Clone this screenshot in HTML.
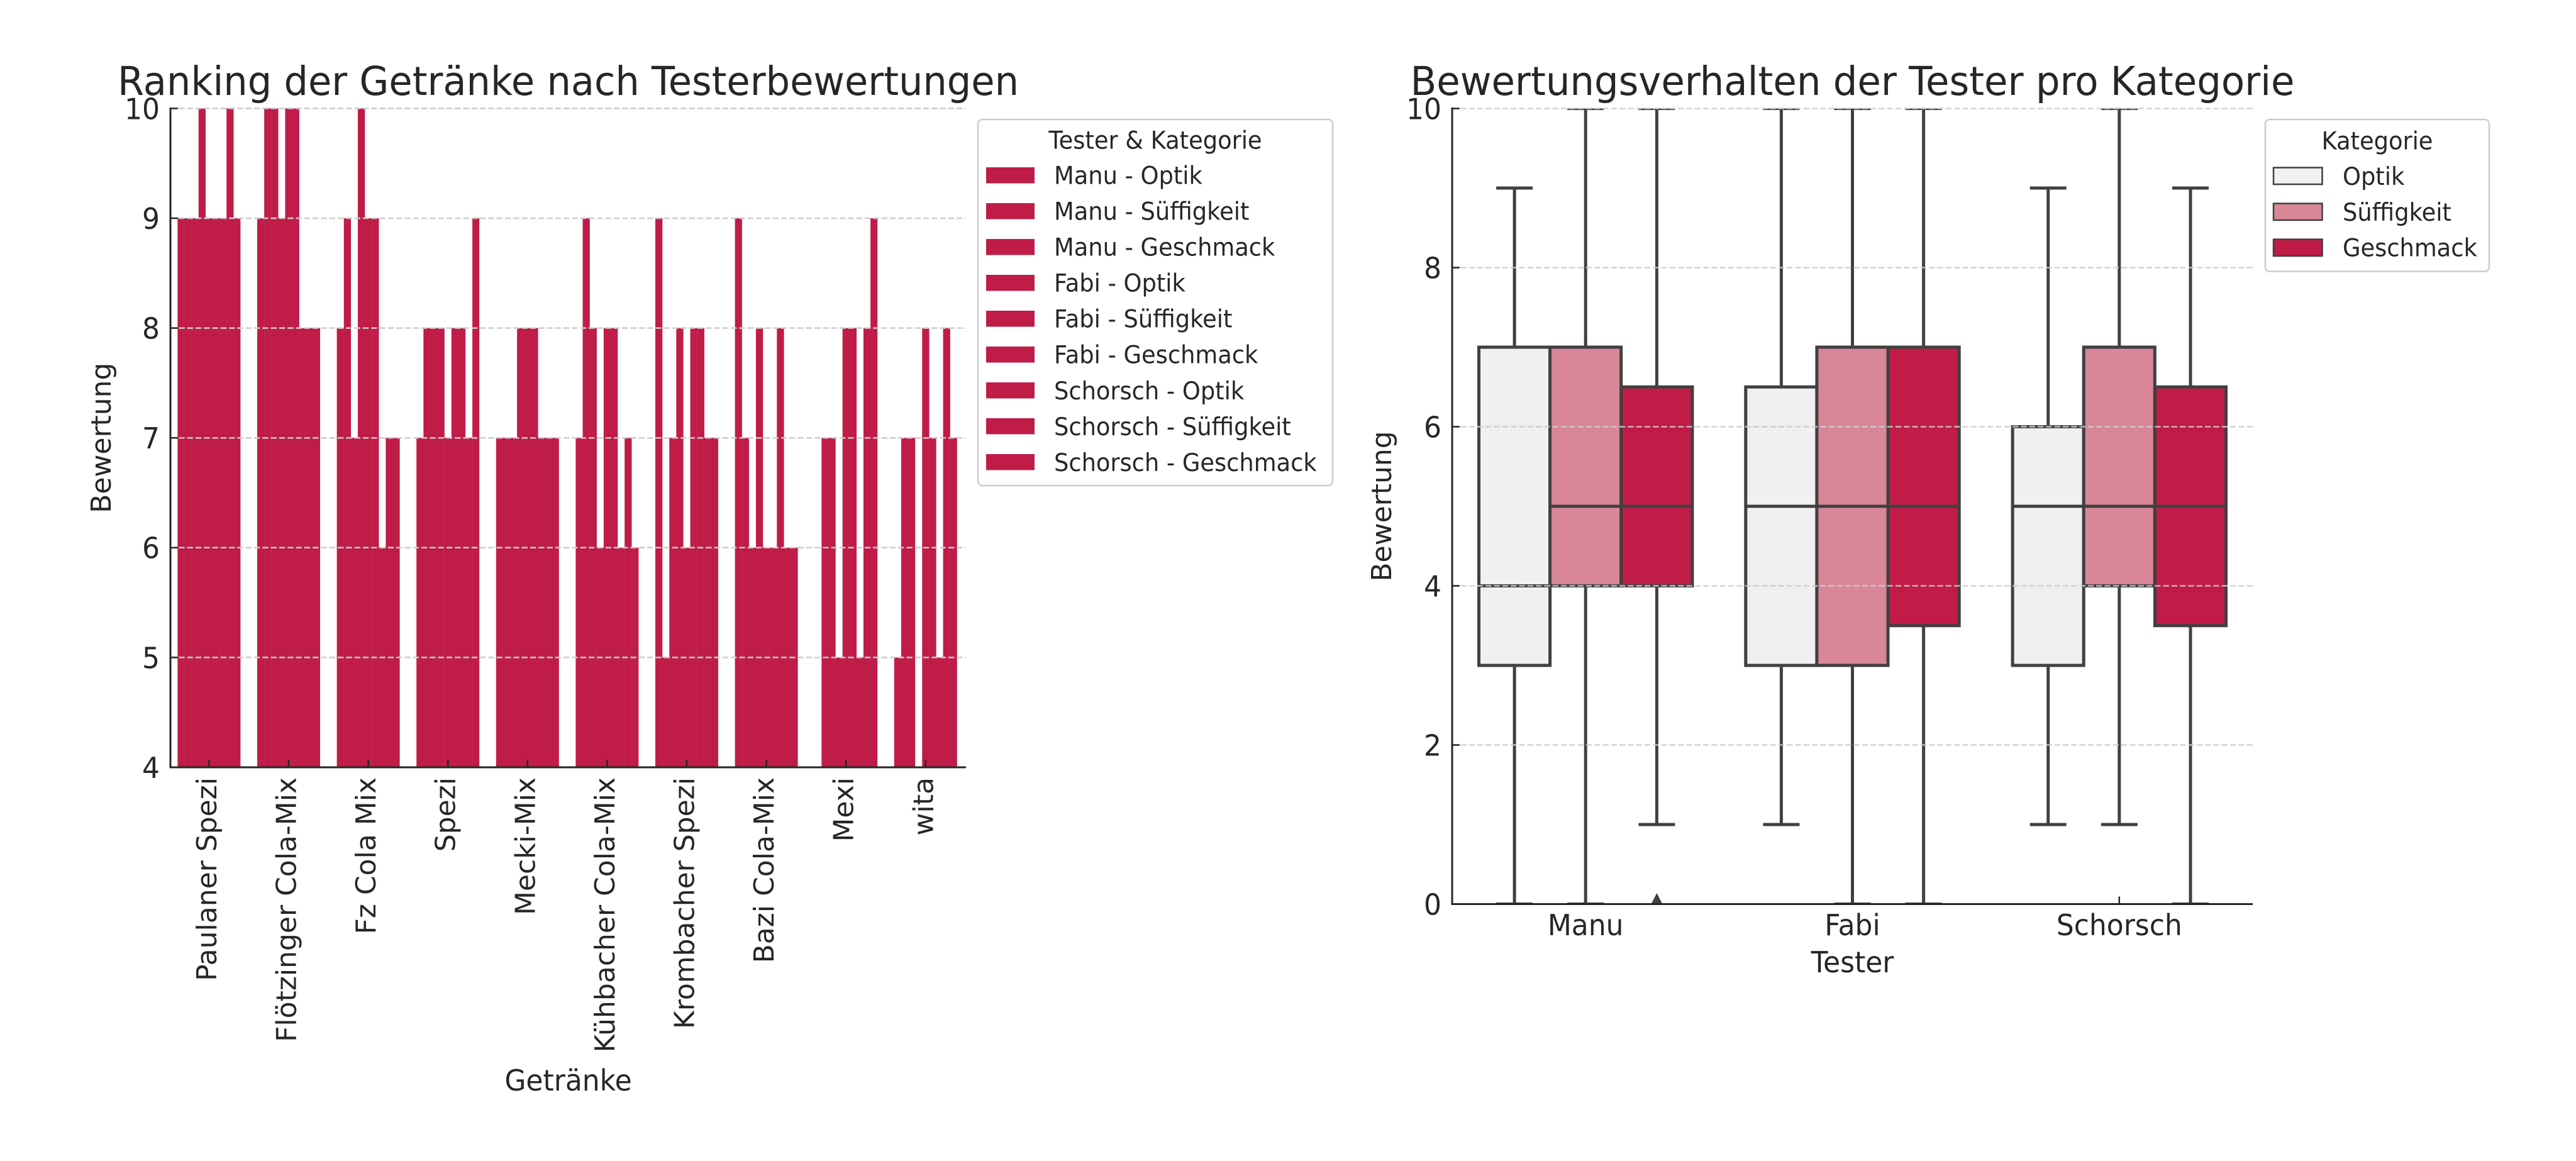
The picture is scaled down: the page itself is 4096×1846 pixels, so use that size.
<!DOCTYPE html>
<html>
<head>
<meta charset="utf-8">
<style>
html,body{margin:0;padding:0;background:#fff;}
svg{display:block;}
text{font-family:"DejaVu Sans","Liberation Sans",sans-serif;fill:#262626;}
text.h{transform-box:fill-box;transform-origin:50% 50%;transform:scaleY(1.06);}
</style>
</head>
<body>
<svg width="4096" height="1846" viewBox="0 0 4096 1846" xmlns="http://www.w3.org/2000/svg">
<rect x="0" y="0" width="4096" height="1846" fill="#fff"/>
<defs>
<clipPath id="clipL"><rect x="271" y="172.4" width="1265" height="1047.6"/></clipPath>
<clipPath id="clipR"><rect x="2309" y="172.5" width="1273" height="1265"/></clipPath>
</defs>

<!-- ================= LEFT CHART ================= -->
<text class="h" x="903.5" y="150" font-size="60" text-anchor="middle" textLength="1433" lengthAdjust="spacingAndGlyphs">Ranking der Getränke nach Testerbewertungen</text>

<g clip-path="url(#clipL)" fill="#c01c48">
<g transform="translate(282.4,0)">
<rect x="0" y="347" width="11.3" height="873"/>
<rect x="11.11" y="347" width="11.3" height="873"/>
<rect x="22.22" y="347" width="11.3" height="873"/>
<rect x="33.33" y="172.4" width="11.3" height="1047.6"/>
<rect x="44.44" y="347" width="11.3" height="873"/>
<rect x="55.56" y="347" width="11.3" height="873"/>
<rect x="66.67" y="347" width="11.3" height="873"/>
<rect x="77.78" y="172.4" width="11.3" height="1047.6"/>
<rect x="88.89" y="347" width="11.11" height="873"/>
</g>
<g transform="translate(409,0)">
<rect x="0" y="347" width="11.3" height="873"/>
<rect x="11.11" y="172.4" width="11.3" height="1047.6"/>
<rect x="22.22" y="172.4" width="11.3" height="1047.6"/>
<rect x="33.33" y="347" width="11.3" height="873"/>
<rect x="44.44" y="172.4" width="11.3" height="1047.6"/>
<rect x="55.56" y="172.4" width="11.3" height="1047.6"/>
<rect x="66.67" y="521.6" width="11.3" height="698.4"/>
<rect x="77.78" y="521.6" width="11.3" height="698.4"/>
<rect x="88.89" y="521.6" width="11.11" height="698.4"/>
</g>
<g transform="translate(535.6,0)">
<rect x="0" y="521.6" width="11.3" height="698.4"/>
<rect x="11.11" y="347" width="11.3" height="873"/>
<rect x="22.22" y="696.2" width="11.3" height="523.8"/>
<rect x="33.33" y="172.4" width="11.3" height="1047.6"/>
<rect x="44.44" y="347" width="11.3" height="873"/>
<rect x="55.56" y="347" width="11.3" height="873"/>
<rect x="66.67" y="870.8" width="11.3" height="349.2"/>
<rect x="77.78" y="696.2" width="11.3" height="523.8"/>
<rect x="88.89" y="696.2" width="11.11" height="523.8"/>
</g>
<g transform="translate(662.2,0)">
<rect x="0" y="696.2" width="11.3" height="523.8"/>
<rect x="11.11" y="521.6" width="11.3" height="698.4"/>
<rect x="22.22" y="521.6" width="11.3" height="698.4"/>
<rect x="33.33" y="521.6" width="11.3" height="698.4"/>
<rect x="44.44" y="696.2" width="11.3" height="523.8"/>
<rect x="55.56" y="521.6" width="11.3" height="698.4"/>
<rect x="66.67" y="521.6" width="11.3" height="698.4"/>
<rect x="77.78" y="696.2" width="11.3" height="523.8"/>
<rect x="88.89" y="347" width="11.11" height="873"/>
</g>
<g transform="translate(788.8,0)">
<rect x="0" y="696.2" width="33.5" height="523.8"/>
<rect x="33.33" y="521.6" width="33.5" height="698.4"/>
<rect x="66.67" y="696.2" width="33.33" height="523.8"/>
</g>
<g transform="translate(915.4,0)">
<rect x="0" y="696.2" width="11.3" height="523.8"/>
<rect x="11.11" y="347" width="11.3" height="873"/>
<rect x="22.22" y="521.6" width="11.3" height="698.4"/>
<rect x="33.33" y="870.8" width="11.3" height="349.2"/>
<rect x="44.44" y="521.6" width="11.3" height="698.4"/>
<rect x="55.56" y="521.6" width="11.3" height="698.4"/>
<rect x="66.67" y="870.8" width="11.3" height="349.2"/>
<rect x="77.78" y="696.2" width="11.3" height="523.8"/>
<rect x="88.89" y="870.8" width="11.11" height="349.2"/>
</g>
<g transform="translate(1042,0)">
<rect x="0" y="347" width="11.3" height="873"/>
<rect x="11.11" y="1045.4" width="11.3" height="174.6"/>
<rect x="22.22" y="696.2" width="11.3" height="523.8"/>
<rect x="33.33" y="521.6" width="11.3" height="698.4"/>
<rect x="44.44" y="870.8" width="11.3" height="349.2"/>
<rect x="55.56" y="521.6" width="11.3" height="698.4"/>
<rect x="66.67" y="521.6" width="11.3" height="698.4"/>
<rect x="77.78" y="696.2" width="11.3" height="523.8"/>
<rect x="88.89" y="696.2" width="11.11" height="523.8"/>
</g>
<g transform="translate(1168.6,0)">
<rect x="0" y="347" width="11.3" height="873"/>
<rect x="11.11" y="696.2" width="11.3" height="523.8"/>
<rect x="22.22" y="870.8" width="11.3" height="349.2"/>
<rect x="33.33" y="521.6" width="11.3" height="698.4"/>
<rect x="44.44" y="870.8" width="11.3" height="349.2"/>
<rect x="55.56" y="870.8" width="11.3" height="349.2"/>
<rect x="66.67" y="521.6" width="11.3" height="698.4"/>
<rect x="77.78" y="870.8" width="11.3" height="349.2"/>
<rect x="88.89" y="870.8" width="11.11" height="349.2"/>
</g>
<g transform="translate(1295.2,0)">
<rect x="11.11" y="696.2" width="11.3" height="523.8"/>
<rect x="22.22" y="696.2" width="11.3" height="523.8"/>
<rect x="33.33" y="1045.4" width="11.3" height="174.6"/>
<rect x="44.44" y="521.6" width="11.3" height="698.4"/>
<rect x="55.56" y="521.6" width="11.3" height="698.4"/>
<rect x="66.67" y="1045.4" width="11.3" height="174.6"/>
<rect x="77.78" y="521.6" width="11.3" height="698.4"/>
<rect x="88.89" y="347" width="11.11" height="873"/>
</g>
<g transform="translate(1421.8,0)">
<rect x="0" y="1045.4" width="11.3" height="174.6"/>
<rect x="11.11" y="696.2" width="11.3" height="523.8"/>
<rect x="22.22" y="696.2" width="11.11" height="523.8"/>
<rect x="44.44" y="521.6" width="11.3" height="698.4"/>
<rect x="55.56" y="696.2" width="11.3" height="523.8"/>
<rect x="66.67" y="1045.4" width="11.3" height="174.6"/>
<rect x="77.78" y="521.6" width="11.3" height="698.4"/>
<rect x="88.89" y="696.2" width="11.11" height="523.8"/>
</g>
</g>

<g stroke="#cccccc" stroke-width="2.5" stroke-dasharray="9.3 4">
<line x1="271" y1="172.4" x2="1536" y2="172.4"/>
<line x1="271" y1="347" x2="1536" y2="347"/>
<line x1="271" y1="521.6" x2="1536" y2="521.6"/>
<line x1="271" y1="696.2" x2="1536" y2="696.2"/>
<line x1="271" y1="870.8" x2="1536" y2="870.8"/>
<line x1="271" y1="1045.4" x2="1536" y2="1045.4"/>
</g>

<g stroke="#262626" stroke-width="2.5">
<line x1="271" y1="172.4" x2="283" y2="172.4"/>
<line x1="271" y1="347" x2="283" y2="347"/>
<line x1="271" y1="521.6" x2="283" y2="521.6"/>
<line x1="271" y1="696.2" x2="283" y2="696.2"/>
<line x1="271" y1="870.8" x2="283" y2="870.8"/>
<line x1="271" y1="1045.4" x2="283" y2="1045.4"/>
<line x1="332.4" y1="1208" x2="332.4" y2="1220"/>
<line x1="459" y1="1208" x2="459" y2="1220"/>
<line x1="585.6" y1="1208" x2="585.6" y2="1220"/>
<line x1="712.2" y1="1208" x2="712.2" y2="1220"/>
<line x1="838.8" y1="1208" x2="838.8" y2="1220"/>
<line x1="965.4" y1="1208" x2="965.4" y2="1220"/>
<line x1="1092" y1="1208" x2="1092" y2="1220"/>
<line x1="1218.6" y1="1208" x2="1218.6" y2="1220"/>
<line x1="1345.2" y1="1208" x2="1345.2" y2="1220"/>
<line x1="1471.8" y1="1208" x2="1471.8" y2="1220"/>
</g>

<g stroke="#262626" stroke-width="3" fill="none">
<line x1="271" y1="171" x2="271" y2="1221.5"/>
<line x1="269.5" y1="1220" x2="1536" y2="1220"/>
</g>

<g font-size="44" text-anchor="end">
<text class="h" x="254" y="188.4">10</text>
<text class="h" x="254" y="363">9</text>
<text class="h" x="254" y="537.6">8</text>
<text class="h" x="254" y="712.2">7</text>
<text class="h" x="254" y="886.8">6</text>
<text class="h" x="254" y="1061.4">5</text>
<text class="h" x="254" y="1236">4</text>
</g>

<g font-size="44" text-anchor="end">
<text transform="translate(343.9,1236) rotate(-90)">Paulaner Spezi</text>
<text transform="translate(470.5,1236) rotate(-90)">Flötzinger Cola-Mix</text>
<text transform="translate(597.1,1236) rotate(-90)">Fz Cola Mix</text>
<text transform="translate(723.7,1236) rotate(-90)">Spezi</text>
<text transform="translate(850.3,1236) rotate(-90)">Mecki-Mix</text>
<text transform="translate(976.9,1236) rotate(-90)">Kühbacher Cola-Mix</text>
<text transform="translate(1103.5,1236) rotate(-90)">Krombacher Spezi</text>
<text transform="translate(1230.1,1236) rotate(-90)">Bazi Cola-Mix</text>
<text transform="translate(1356.7,1236) rotate(-90)">Mexi</text>
<text transform="translate(1483.3,1236) rotate(-90)">wita</text>
</g>

<text class="h" x="903.5" y="1733" font-size="44" text-anchor="middle">Getränke</text>
<text transform="translate(176,696.2) rotate(-90)" font-size="44" text-anchor="middle">Bewertung</text>

<rect x="1555" y="190" width="564" height="582" rx="7" ry="7" fill="#fff" fill-opacity="0.8" stroke="#cccccc" stroke-width="2.5"/>
<text class="h" x="1837" y="236" font-size="36.8" text-anchor="middle">Tester &amp; Kategorie</text>
<g fill="#c01c48">
<rect x="1568" y="266" width="77" height="25.5"/>
<rect x="1568" y="323" width="77" height="25.5"/>
<rect x="1568" y="380" width="77" height="25.5"/>
<rect x="1568" y="437" width="77" height="25.5"/>
<rect x="1568" y="494" width="77" height="25.5"/>
<rect x="1568" y="551" width="77" height="25.5"/>
<rect x="1568" y="608" width="77" height="25.5"/>
<rect x="1568" y="665" width="77" height="25.5"/>
<rect x="1568" y="722" width="77" height="25.5"/>
</g>
<g font-size="36.8">
<text class="h" x="1676" y="292">Manu - Optik</text>
<text class="h" x="1676" y="349">Manu - Süffigkeit</text>
<text class="h" x="1676" y="406">Manu - Geschmack</text>
<text class="h" x="1676" y="463">Fabi - Optik</text>
<text class="h" x="1676" y="520">Fabi - Süffigkeit</text>
<text class="h" x="1676" y="577">Fabi - Geschmack</text>
<text class="h" x="1676" y="634">Schorsch - Optik</text>
<text class="h" x="1676" y="691">Schorsch - Süffigkeit</text>
<text class="h" x="1676" y="748">Schorsch - Geschmack</text>
</g>

<!-- ================= RIGHT CHART ================= -->
<text class="h" x="2945.5" y="150" font-size="60" text-anchor="middle" textLength="1406" lengthAdjust="spacingAndGlyphs">Bewertungsverhalten der Tester pro Kategorie</text>

<g clip-path="url(#clipR)">
<g stroke="#404040" stroke-width="5" fill="none">
<line x1="2408.1" y1="1437.5" x2="2408.1" y2="1058"/><line x1="2408.1" y1="552" x2="2408.1" y2="299"/>
<line x1="2379.1" y1="1437.5" x2="2437.1" y2="1437.5"/><line x1="2379.1" y1="299" x2="2437.1" y2="299"/>
<line x1="2521.2" y1="1437.5" x2="2521.2" y2="931.5"/><line x1="2521.2" y1="552" x2="2521.2" y2="172.5"/>
<line x1="2492.2" y1="1437.5" x2="2550.2" y2="1437.5"/><line x1="2492.2" y1="172.5" x2="2550.2" y2="172.5"/>
<line x1="2634.4" y1="1311" x2="2634.4" y2="931.5"/><line x1="2634.4" y1="615.25" x2="2634.4" y2="172.5"/>
<line x1="2605.4" y1="1311" x2="2663.4" y2="1311"/><line x1="2605.4" y1="172.5" x2="2663.4" y2="172.5"/>
<line x1="2832.4" y1="1311" x2="2832.4" y2="1058"/><line x1="2832.4" y1="615.25" x2="2832.4" y2="172.5"/>
<line x1="2803.4" y1="1311" x2="2861.4" y2="1311"/><line x1="2803.4" y1="172.5" x2="2861.4" y2="172.5"/>
<line x1="2945.5" y1="1437.5" x2="2945.5" y2="1058"/><line x1="2945.5" y1="552" x2="2945.5" y2="172.5"/>
<line x1="2916.5" y1="1437.5" x2="2974.5" y2="1437.5"/><line x1="2916.5" y1="172.5" x2="2974.5" y2="172.5"/>
<line x1="3058.6" y1="1437.5" x2="3058.6" y2="994.75"/><line x1="3058.6" y1="552" x2="3058.6" y2="172.5"/>
<line x1="3029.6" y1="1437.5" x2="3087.6" y2="1437.5"/><line x1="3029.6" y1="172.5" x2="3087.6" y2="172.5"/>
<line x1="3256.7" y1="1311" x2="3256.7" y2="1058"/><line x1="3256.7" y1="678.5" x2="3256.7" y2="299"/>
<line x1="3227.7" y1="1311" x2="3285.7" y2="1311"/><line x1="3227.7" y1="299" x2="3285.7" y2="299"/>
<line x1="3369.8" y1="1311" x2="3369.8" y2="931.5"/><line x1="3369.8" y1="552" x2="3369.8" y2="172.5"/>
<line x1="3340.8" y1="1311" x2="3398.8" y2="1311"/><line x1="3340.8" y1="172.5" x2="3398.8" y2="172.5"/>
<line x1="3483" y1="1437.5" x2="3483" y2="994.75"/><line x1="3483" y1="615.25" x2="3483" y2="299"/>
<line x1="3454" y1="1437.5" x2="3512" y2="1437.5"/><line x1="3454" y1="299" x2="3512" y2="299"/>
</g>

<g stroke="#404040" stroke-width="5">
<rect x="2351.5" y="552" width="113.1" height="506" fill="#f1eff0"/>
<rect x="2464.6" y="552" width="113.1" height="379.5" fill="#d98699"/>
<rect x="2577.8" y="615.25" width="113.1" height="316.25" fill="#c11b47"/>
<rect x="2775.8" y="615.25" width="113.1" height="442.75" fill="#f1eff0"/>
<rect x="2888.9" y="552" width="113.1" height="506" fill="#d98699"/>
<rect x="3002.1" y="552" width="113.1" height="442.75" fill="#c11b47"/>
<rect x="3200.1" y="678.5" width="113.1" height="379.5" fill="#f1eff0"/>
<rect x="3313.2" y="552" width="113.1" height="379.5" fill="#d98699"/>
<rect x="3426.4" y="615.25" width="113.1" height="379.5" fill="#c11b47"/>
</g>
<g stroke="#404040" stroke-width="5">
<line x1="2351.5" y1="931.5" x2="2464.6" y2="931.5"/>
<line x1="2464.6" y1="805" x2="2577.7" y2="805"/>
<line x1="2577.8" y1="805" x2="2690.9" y2="805"/>
<line x1="2775.8" y1="805" x2="2888.9" y2="805"/>
<line x1="2888.9" y1="805" x2="3002" y2="805"/>
<line x1="3002.1" y1="805" x2="3115.2" y2="805"/>
<line x1="3200.1" y1="805" x2="3313.2" y2="805"/>
<line x1="3313.2" y1="805" x2="3426.3" y2="805"/>
<line x1="3426.4" y1="805" x2="3539.5" y2="805"/>
</g>
<polygon points="2634.4,1420 2643.4,1437.5 2634.4,1455 2625.4,1437.5" fill="#404040"/>
</g>

<g stroke="#cccccc" stroke-width="2.5" stroke-dasharray="9.3 4" opacity="0.85">
<line x1="2309" y1="172.5" x2="3582" y2="172.5"/>
<line x1="2309" y1="425.5" x2="3582" y2="425.5"/>
<line x1="2309" y1="678.5" x2="3582" y2="678.5"/>
<line x1="2309" y1="931.5" x2="3582" y2="931.5"/>
<line x1="2309" y1="1184.5" x2="3582" y2="1184.5"/>
</g>

<g stroke="#262626" stroke-width="2.5">
<line x1="2309" y1="172.5" x2="2321" y2="172.5"/>
<line x1="2309" y1="425.5" x2="2321" y2="425.5"/>
<line x1="2309" y1="678.5" x2="2321" y2="678.5"/>
<line x1="2309" y1="931.5" x2="2321" y2="931.5"/>
<line x1="2309" y1="1184.5" x2="2321" y2="1184.5"/>
<line x1="3369.8" y1="1425.5" x2="3369.8" y2="1437.5"/>
</g>

<g stroke="#262626" stroke-width="3" fill="none">
<line x1="2309" y1="171" x2="2309" y2="1439"/>
<line x1="2307.5" y1="1437.5" x2="3582" y2="1437.5"/>
</g>

<g font-size="44" text-anchor="end">
<text class="h" x="2292" y="188.5">10</text>
<text class="h" x="2292" y="441.5">8</text>
<text class="h" x="2292" y="694.5">6</text>
<text class="h" x="2292" y="947.5">4</text>
<text class="h" x="2292" y="1200.5">2</text>
<text class="h" x="2292" y="1453.5">0</text>
</g>
<g font-size="44" text-anchor="middle">
<text class="h" x="2521.2" y="1486">Manu</text>
<text class="h" x="2945.5" y="1486">Fabi</text>
<text class="h" x="3369.8" y="1486">Schorsch</text>
</g>
<text class="h" x="2945.5" y="1545" font-size="44" text-anchor="middle">Tester</text>
<text transform="translate(2212,805) rotate(-90)" font-size="44" text-anchor="middle">Bewertung</text>

<rect x="3602" y="190" width="356" height="241.5" rx="7" ry="7" fill="#fff" fill-opacity="0.8" stroke="#cccccc" stroke-width="2.5"/>
<text class="h" x="3780" y="237" font-size="36.8" text-anchor="middle">Kategorie</text>
<g stroke="#404040" stroke-width="2.5">
<rect x="3615" y="266.5" width="77.5" height="26.5" fill="#f1eff0"/>
<rect x="3615" y="323.5" width="77.5" height="26.5" fill="#d98699"/>
<rect x="3615" y="380.5" width="77.5" height="26.5" fill="#c11b47"/>
</g>
<g font-size="36.8">
<text class="h" x="3725" y="293.5">Optik</text>
<text class="h" x="3725" y="350.5">Süffigkeit</text>
<text class="h" x="3725" y="407">Geschmack</text>
</g>
</svg>
</body>
</html>
